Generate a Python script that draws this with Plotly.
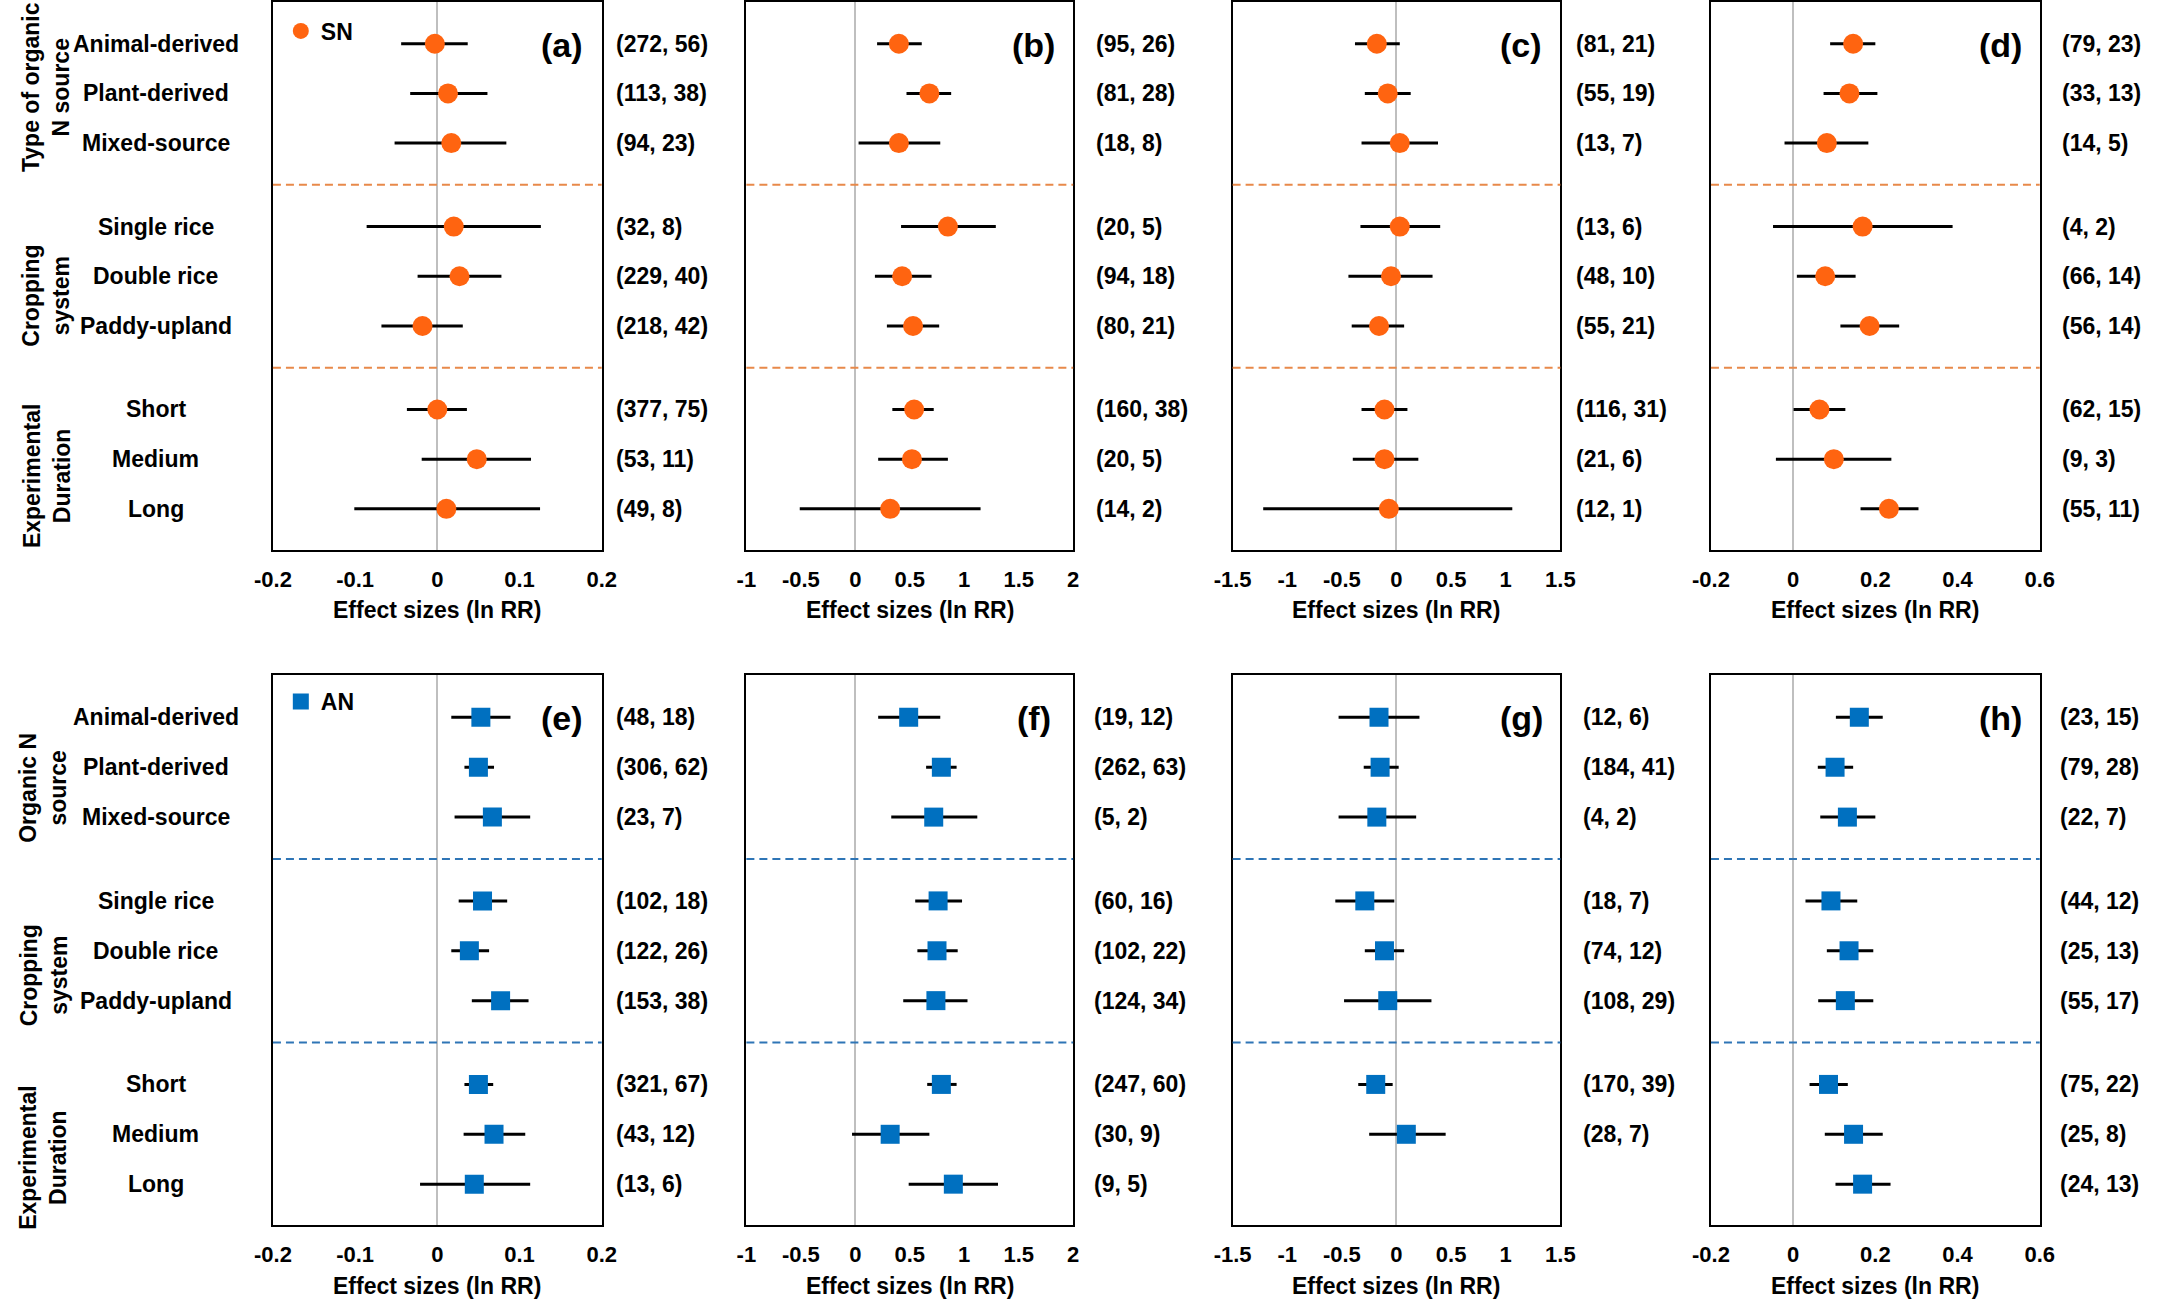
import plotly.graph_objects as go

W, H = 2162, 1300

# ---------------- data ----------------
categories = ["Animal-derived", "Plant-derived", "Mixed-source",
              "Single rice", "Double rice", "Paddy-upland",
              "Short", "Medium", "Long"]
group_titles_sn = ["Type of organic<br>N source", "Cropping<br>system", "Experimental<br>Duration"]
group_titles_an = ["Organic N<br>source", "Cropping<br>system", "Experimental<br>Duration"]
panel_letters = ["(a)", "(b)", "(c)", "(d)", "(e)", "(f)", "(g)", "(h)"]

# SN panels (a)-(d): mean, lower CI, upper CI, observations, studies
a_mean = [-0.003, 0.013, 0.017, 0.020, 0.027, -0.018, 0.000, 0.048, 0.011]
a_lo = [-0.044, -0.033, -0.052, -0.086, -0.024, -0.068, -0.037, -0.019, -0.101]
a_hi = [0.037, 0.061, 0.084, 0.126, 0.078, 0.031, 0.036, 0.114, 0.125]
a_obs = [272, 113, 94, 32, 229, 218, 377, 53, 49]
a_stu = [56, 38, 23, 8, 40, 42, 75, 11, 8]

b_mean = [0.40, 0.68, 0.40, 0.85, 0.43, 0.53, 0.54, 0.52, 0.32]
b_lo = [0.20, 0.47, 0.03, 0.42, 0.18, 0.29, 0.34, 0.21, -0.51]
b_hi = [0.61, 0.88, 0.78, 1.29, 0.70, 0.77, 0.72, 0.85, 1.15]
b_obs = [95, 81, 18, 20, 94, 80, 160, 20, 14]
b_stu = [26, 28, 8, 5, 18, 21, 38, 5, 2]

c_mean = [-0.18, -0.08, 0.03, 0.03, -0.05, -0.16, -0.11, -0.11, -0.07]
c_lo = [-0.38, -0.29, -0.32, -0.33, -0.44, -0.41, -0.32, -0.40, -1.22]
c_hi = [0.03, 0.13, 0.38, 0.40, 0.33, 0.07, 0.10, 0.20, 1.06]
c_obs = [81, 55, 13, 13, 48, 55, 116, 21, 12]
c_stu = [21, 19, 7, 6, 10, 21, 31, 6, 1]

d_mean = [0.146, 0.137, 0.082, 0.169, 0.078, 0.186, 0.064, 0.099, 0.233]
d_lo = [0.090, 0.074, -0.021, -0.049, 0.009, 0.115, 0.001, -0.042, 0.164]
d_hi = [0.200, 0.205, 0.183, 0.388, 0.152, 0.258, 0.127, 0.239, 0.305]
d_obs = [79, 33, 14, 4, 66, 56, 62, 9, 55]
d_stu = [23, 13, 5, 2, 14, 14, 15, 3, 11]

# AN panels (e)-(h)
e_mean = [0.053, 0.050, 0.067, 0.055, 0.039, 0.077, 0.050, 0.069, 0.045]
e_lo = [0.017, 0.033, 0.021, 0.026, 0.017, 0.042, 0.033, 0.032, -0.021]
e_hi = [0.089, 0.069, 0.113, 0.085, 0.063, 0.111, 0.068, 0.107, 0.113]
e_obs = [48, 306, 23, 102, 122, 153, 321, 43, 13]
e_stu = [18, 62, 7, 18, 26, 38, 67, 12, 6]

f_mean = [0.49, 0.79, 0.72, 0.76, 0.75, 0.74, 0.79, 0.32, 0.90]
f_lo = [0.21, 0.65, 0.33, 0.55, 0.57, 0.44, 0.66, -0.03, 0.49]
f_hi = [0.78, 0.93, 1.12, 0.98, 0.94, 1.03, 0.93, 0.68, 1.31]
f_obs = [19, 262, 5, 60, 102, 124, 247, 30, 9]
f_stu = [12, 63, 2, 16, 22, 34, 60, 9, 5]

g_mean = [-0.16, -0.15, -0.18, -0.29, -0.11, -0.08, -0.19, 0.09, None]
g_lo = [-0.53, -0.30, -0.53, -0.56, -0.29, -0.48, -0.35, -0.25, None]
g_hi = [0.21, 0.02, 0.18, -0.02, 0.07, 0.32, -0.035, 0.45, None]
g_obs = [12, 184, 4, 18, 74, 108, 170, 28, None]
g_stu = [6, 41, 2, 7, 12, 29, 39, 7, None]

h_mean = [0.161, 0.102, 0.132, 0.092, 0.136, 0.127, 0.086, 0.147, 0.169]
h_lo = [0.104, 0.060, 0.066, 0.030, 0.082, 0.061, 0.040, 0.077, 0.103]
h_hi = [0.218, 0.146, 0.200, 0.156, 0.195, 0.195, 0.133, 0.218, 0.237]
h_obs = [23, 79, 22, 44, 25, 55, 75, 25, 24]
h_stu = [15, 28, 7, 12, 13, 17, 22, 8, 13]

ticks_1 = [-0.2, -0.1, 0, 0.1, 0.2]
ticks_1_text = ["-0.2", "-0.1", "0", "0.1", "0.2"]
ticks_2 = [-1, -0.5, 0, 0.5, 1, 1.5, 2]
ticks_2_text = ["-1", "-0.5", "0", "0.5", "1", "1.5", "2"]
ticks_3 = [-1.5, -1, -0.5, 0, 0.5, 1, 1.5]
ticks_3_text = ["-1.5", "-1", "-0.5", "0", "0.5", "1", "1.5"]
ticks_4 = [-0.2, 0, 0.2, 0.4, 0.6]
ticks_4_text = ["-0.2", "0", "0.2", "0.4", "0.6"]

x_title = "Effect sizes (ln RR)"

# ---------------- layout helpers ----------------
FONT = "Liberation Sans, Arial, sans-serif"
ORANGE = "#FF6410"
BLUE = "#0070C0"
ORANGE_DASH = "#E8894A"
BLUE_DASH = "#2E75B6"


def px_x(p):
    return p / W


def px_y(p):
    return 1 - p / H


cols_px = [(258, 592), (739, 1071), (1233, 1566), (1719, 2053)]
rows_px = [(1, 549), (675, 1225)]
label_offsets = [[12, 21, 14, 21], [13, 19, 21, 19]]
title_offsets = [60, 61]

GROUP_STEP = 3.68
row_pos = [g * GROUP_STEP + i for g in range(3) for i in range(3)]
sep_pos = [2 + (GROUP_STEP - 2) / 2, GROUP_STEP + 2 + (GROUP_STEP - 2) / 2]
y_range = [row_pos[-1] + 0.82, -0.84]

panels = [
    (a_mean, a_lo, a_hi, a_obs, a_stu, ticks_1, ticks_1_text),
    (b_mean, b_lo, b_hi, b_obs, b_stu, ticks_2, ticks_2_text),
    (c_mean, c_lo, c_hi, c_obs, c_stu, ticks_3, ticks_3_text),
    (d_mean, d_lo, d_hi, d_obs, d_stu, ticks_4, ticks_4_text),
    (e_mean, e_lo, e_hi, e_obs, e_stu, ticks_1, ticks_1_text),
    (f_mean, f_lo, f_hi, f_obs, f_stu, ticks_2, ticks_2_text),
    (g_mean, g_lo, g_hi, g_obs, g_stu, ticks_3, ticks_3_text),
    (h_mean, h_lo, h_hi, h_obs, h_stu, ticks_4, ticks_4_text),
]

fig = go.Figure()
layout = dict(
    width=W, height=H,
    margin=dict(l=0, r=0, t=0, b=0),
    paper_bgcolor="white", plot_bgcolor="white",
    font=dict(family=FONT, size=23, color="black", weight="bold"),
    showlegend=True,
)
annotations = []
shapes = []

for k, (mean, lo, hi, obs, stu, tv, tt) in enumerate(panels):
    r, c = divmod(k, 4)
    idx = "" if k == 0 else str(k + 1)
    xa, ya = "x" + idx, "y" + idx
    is_sn = r == 0
    color = ORANGE if is_sn else BLUE
    dash_color = ORANGE_DASH if is_sn else BLUE_DASH

    xs, ys, ep, em = [], [], [], []
    for m, l_, h_, yp in zip(mean, lo, hi, row_pos):
        if m is None:
            continue
        xs.append(m)
        ys.append(yp)
        ep.append(h_ - m)
        em.append(m - l_)

    trace = go.Scatter(
        x=xs, y=ys, mode="markers", xaxis=xa, yaxis=ya,
        name="SN" if is_sn else "AN",
        marker=dict(symbol="circle" if is_sn else "square",
                    size=20 if is_sn else 19, color=color,
                    line=dict(width=0)),
        error_x=dict(type="data", symmetric=False, array=ep, arrayminus=em,
                     color="black", thickness=3, width=0),
        showlegend=(c == 0),
        legend="legend" if is_sn else "legend2",
        hoverinfo="skip",
    )
    fig.add_trace(trace)

    x0, x1 = cols_px[c]
    y0, y1 = rows_px[r]
    lo_r, hi_r = tv[0], tv[-1]
    layout["xaxis" + idx] = dict(
        domain=[px_x(x0), px_x(x1)], anchor=ya, range=[lo_r, hi_r],
        tickvals=tv, ticktext=tt, tickfont=dict(size=22, family=FONT, weight="bold"),
        ticks="outside", ticklen=9, tickcolor="rgba(0,0,0,0)",
        showline=True, mirror=True, linecolor="black", linewidth=2,
        showgrid=False, zeroline=True, zerolinecolor="#BFBFBF", zerolinewidth=2,
        fixedrange=True,
    )
    layout["yaxis" + idx] = dict(
        domain=[px_y(y1), px_y(y0)], anchor=xa, range=y_range,
        showticklabels=False, ticks="",
        showline=True, mirror=True, linecolor="black", linewidth=2,
        showgrid=False, zeroline=False, fixedrange=True,
    )

    # group separators
    for sp in sep_pos:
        shapes.append(dict(type="line", xref=xa + " domain", yref=ya,
                           x0=0, x1=1, y0=sp, y1=sp,
                           line=dict(color=dash_color, width=2, dash="8px,5px"),
                           layer="above"))

    # panel letter
    annotations.append(dict(text=panel_letters[k], xref="paper", yref="paper",
                            x=px_x(x1 - 40), y=px_y(y0 + 43),
                            xanchor="center", yanchor="middle", showarrow=False,
                            font=dict(size=34, family=FONT, weight="bold")))
    # axis title
    annotations.append(dict(text=x_title, xref="paper", yref="paper",
                            x=px_x((x0 + x1) / 2), y=px_y(y1 + title_offsets[r]),
                            xanchor="center", yanchor="middle", showarrow=False,
                            font=dict(size=23, family=FONT, weight="bold")))
    # (observations, studies) labels
    for o, s, yp in zip(obs, stu, row_pos):
        if o is None:
            continue
        annotations.append(dict(text=f"({o}, {s})", xref="paper", yref=ya,
                                x=px_x(x1 + label_offsets[r][c]), y=yp,
                                xanchor="left", yanchor="middle", showarrow=False,
                                font=dict(size=23, family=FONT, weight="bold")))

    # category labels and group titles on the left column
    if c == 0:
        for cat, yp in zip(categories, row_pos):
            annotations.append(dict(text=cat, xref="paper", yref=ya,
                                    x=px_x(139), y=yp,
                                    xanchor="center", yanchor="middle", showarrow=False,
                                    font=dict(size=23, family=FONT, weight="bold")))
        titles = group_titles_sn if is_sn else group_titles_an
        shifts = [-0.12, 0.4, 0.35] if is_sn else [0.42, 0.5, 0.48]
        for g, t in enumerate(titles):
            annotations.append(dict(text=t, xref="paper", yref=ya,
                                    x=px_x(28 if is_sn else 25),
                                    y=row_pos[g * 3 + 1] + shifts[g],
                                    xanchor="center", yanchor="middle", showarrow=False,
                                    textangle=-90,
                                    font=dict(size=23, family=FONT, weight="bold")))

layout["annotations"] = annotations
layout["shapes"] = shapes
layout["legend"] = dict(x=px_x(266), y=px_y(30), xanchor="left", yanchor="middle",
                        bgcolor="rgba(0,0,0,0)", borderwidth=0,
                        font=dict(size=23, family=FONT, weight="bold"))
layout["legend2"] = dict(x=px_x(266), y=px_y(701), xanchor="left", yanchor="middle",
                         bgcolor="rgba(0,0,0,0)", borderwidth=0,
                         font=dict(size=23, family=FONT, weight="bold"))
fig.update_layout(**layout)

fig.write_html("out.html", config={"displayModeBar": False},
               post_script="document.body.style.margin='0px';")
